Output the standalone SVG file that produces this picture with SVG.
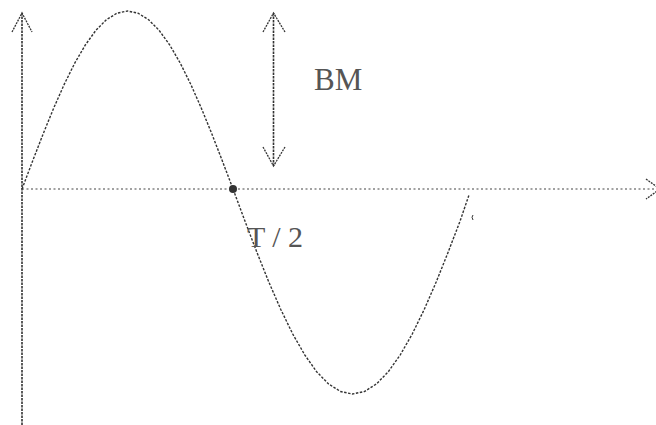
<svg xmlns="http://www.w3.org/2000/svg" width="656" height="425" viewBox="0 0 656 425">
<style>
.axis{fill:none;stroke:#333;stroke-width:1.6;stroke-dasharray:2.5 1}
.haxis{fill:none;stroke:#444;stroke-width:1.2;stroke-dasharray:2 2.5}
.curve{fill:none;stroke:#333;stroke-width:1.4;stroke-dasharray:2.5 1.5}
.head{fill:none;stroke:#333;stroke-width:1.3;stroke-dasharray:2 1}
.lbl{font-family:"Liberation Serif","Times New Roman",serif;fill:#555}
</style>
<rect width="656" height="425" fill="#fff"/>
<g id="connectors">
  <g id="y-axis">
    <line class="axis" x1="22" y1="13" x2="22" y2="425"/>
    <polyline class="head" points="12,32 22,13 32,32"/>
  </g>
  <g id="x-axis">
    <line class="haxis" x1="22" y1="189" x2="656" y2="189"/>
    <polyline class="head" points="646,179 660,189 646,199"/>
  </g>
  <g id="bm-arrow">
    <line class="axis" x1="273.5" y1="13" x2="273.5" y2="166"/>
    <polyline class="head" points="263,32 273.5,13 285,32"/>
    <polyline class="head" points="263,147 273.5,166 285,147"/>
  </g>
</g>
<g id="sine-curve">
  <path class="curve" d="M22,189 L32.55,161.2 L43.1,134 L53.65,108.2 L64.2,84.4 L74.75,63.1 L85.3,45 L95.85,30.4 L106.4,19.7 L116.95,13.2 L127.5,11 L138.05,13.2 L148.6,19.7 L159.15,30.4 L169.7,45 L180.25,63.1 L190.8,84.4 L201.35,108.2 L211.9,134 L222.45,161.2 L233,189 L244.95,221.1 L256.9,252.3 L268.85,282.1 L280.8,309.5 L292.75,334 L304.7,354.8 L316.65,371.7 L328.6,384 L340.55,391.5 L352.5,394 L364.45,391.5 L376.4,384 L388.35,371.7 L400.3,354.8 L412.25,334 L424.2,309.5 L436.15,282.1 L448.1,252.3 L460.05,221.1 L469,195"/>
  <path d="M473,215 q-2,2 0,5" fill="none" stroke="#333" stroke-width="1"/>
</g>
<g id="half-period-point">
  <circle cx="233" cy="189" r="4" fill="#333"/>
</g>
<g id="label-bm">
  <text class="lbl" x="314" y="90" font-size="31">BM</text>
</g>
<g id="label-t2">
  <text class="lbl" x="247" y="247" font-size="30">T / 2</text>
</g>
</svg>
